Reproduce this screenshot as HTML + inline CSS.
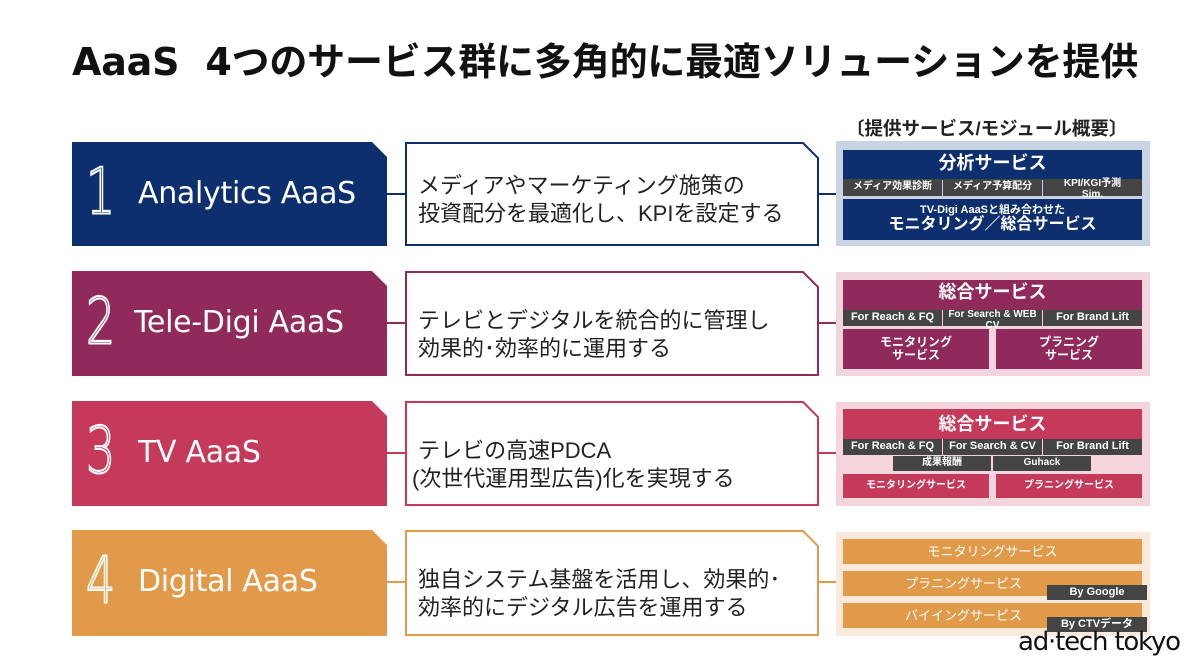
<!DOCTYPE html>
<html><head><meta charset="utf-8"><style>
*{margin:0;padding:0;box-sizing:border-box}
body{width:1200px;height:667px;background:#fff;position:relative;overflow:hidden;font-family:"Liberation Sans","Noto Sans CJK JP",sans-serif}
.a{position:absolute}
.c{display:flex;align-items:center;justify-content:center;color:#fff;font-weight:bold;white-space:nowrap;text-align:center;line-height:1.05}
.lb{clip-path:polygon(0 0,300px 0,315px 15px,315px 100%,0 100%)}
.num{font-family:"DejaVu Sans",sans-serif;font-weight:200;color:transparent;-webkit-text-stroke:1.5px #fff;font-size:46px;transform:scaleY(1.4);transform-origin:left center}
.ttl{color:#fff;font-size:30px;font-family:"DejaVu Sans","Liberation Sans",sans-serif;font-weight:500;letter-spacing:-0.3px}
.desc{font-size:22px;color:#222;line-height:28px;white-space:nowrap}
.g{background:#444;font-size:10px}
</style></head><body>
<div class="a" style="left:72px;top:31px;font-size:38px;font-weight:bold;color:#111;white-space:nowrap;font-family:'DejaVu Sans','Noto Sans CJK JP',sans-serif;letter-spacing:-0.2px">AaaS&nbsp; 4つのサービス群に多角的に最適ソリューションを提供</div>
<div class="a" style="left:846px;top:115px;font-size:18.5px;font-weight:bold;color:#222;white-space:nowrap">〔提供サービス/モジュール概要〕</div>

<svg class="a" style="left:0;top:0" width="1200" height="667">
<g fill="#fff" stroke-width="2">
<polygon points="406,143 803,143 818,158 818,245 406,245" stroke="#0d2f6e"/>
<polygon points="406,272 803,272 818,287 818,375 406,375" stroke="#8f2a5a"/>
<polygon points="406,402 803,402 818,417 818,505 406,505" stroke="#c53a5a"/>
<polygon points="406,531 803,531 818,546 818,635 406,635" stroke="#e09a4a"/>
</g>
<g stroke-width="2">
<line x1="387" y1="194" x2="406" y2="194" stroke="#0d2f6e"/><line x1="818" y1="194" x2="836" y2="194" stroke="#0d2f6e"/>
<line x1="387" y1="323" x2="406" y2="323" stroke="#8f2a5a"/><line x1="818" y1="323" x2="836" y2="323" stroke="#8f2a5a"/>
<line x1="387" y1="453" x2="406" y2="453" stroke="#c53a5a"/><line x1="818" y1="453" x2="836" y2="453" stroke="#c53a5a"/>
<line x1="387" y1="582" x2="406" y2="582" stroke="#e09a4a"/><line x1="818" y1="582" x2="836" y2="582" stroke="#e09a4a"/>
</g>
</svg>

<div class="a lb" style="left:72px;top:142px;width:315px;height:104px;background:#0d2f6e"></div>
<div class="a lb" style="left:72px;top:271px;width:315px;height:105px;background:#8f2a5a"></div>
<div class="a lb" style="left:72px;top:401px;width:315px;height:105px;background:#c53a5a"></div>
<div class="a lb" style="left:72px;top:530px;width:315px;height:106px;background:#e09a4a"></div>

<div class="a num" style="left:86px;top:164px">1</div>
<div class="a num" style="left:86px;top:294px">2</div>
<div class="a num" style="left:86px;top:423px">3</div>
<div class="a num" style="left:86px;top:553px">4</div>
<div class="a ttl" style="left:138px;top:176px">Analytics AaaS</div>
<div class="a ttl" style="left:134px;top:305px">Tele-Digi AaaS</div>
<div class="a ttl" style="left:138px;top:435px">TV AaaS</div>
<div class="a ttl" style="left:138px;top:564px">Digital AaaS</div>

<div class="a desc" style="left:418px;top:172px">メディアやマーケティング施策の<br>投資配分を最適化し、KPIを設定する</div>
<div class="a desc" style="left:418px;top:307px">テレビとデジタルを統合的に管理し<br>効果的･効率的に運用する</div>
<div class="a desc" style="left:412px;top:437px">&nbsp;テレビの高速PDCA<br>(次世代運用型広告)化を実現する</div>
<div class="a desc" style="left:418px;top:566px">独自システム基盤を活用し、効果的･<br>効率的にデジタル広告を運用する</div>

<div class="a" style="left:836px;top:141px;width:314px;height:105px;background:#c8d4e4"></div>
<div class="a c" style="left:843px;top:150px;width:299px;height:30px;background:#0d2f6e;font-size:18px;align-items:flex-start;padding-top:4px">分析サービス</div>
<div class="a c g" style="left:843px;top:179px;width:99px;height:17px">メディア効果診断</div>
<div class="a c g" style="left:943px;top:179px;width:99px;height:17px">メディア予算配分</div>
<div class="a c g" style="left:1043px;top:179px;width:99px;height:17px;align-items:flex-start">KPI/KGI予測<br>Sim.</div>
<div class="a c" style="left:843px;top:199px;width:299px;height:41px;background:#0d2f6e;flex-direction:column;font-size:16px"><span style="font-size:11px">TV-Digi AaaSと組み合わせた</span>モニタリング／総合サービス</div>

<div class="a" style="left:836px;top:272px;width:314px;height:104px;background:#f2d4de"></div>
<div class="a c" style="left:843px;top:280px;width:299px;height:30px;background:#8f2a5a;font-size:18px;align-items:flex-start;padding-top:3px">総合サービス</div>
<div class="a c g" style="left:843px;top:310px;width:99px;height:16px;font-size:11px">For Reach &amp; FQ</div>
<div class="a c g" style="left:943px;top:310px;width:99px;height:16px;font-size:10px;align-items:flex-start">For Search &amp; WEB<br>CV</div>
<div class="a c g" style="left:1043px;top:310px;width:99px;height:16px;font-size:11px">For Brand Lift</div>
<div class="a c" style="left:843px;top:329px;width:146px;height:40px;background:#8f2a5a;font-size:12px">モニタリング<br>サービス</div>
<div class="a c" style="left:996px;top:329px;width:146px;height:40px;background:#8f2a5a;font-size:12px">プラニング<br>サービス</div>

<div class="a" style="left:836px;top:402px;width:314px;height:104px;background:#f5d5dc"></div>
<div class="a c" style="left:843px;top:409px;width:299px;height:30px;background:#c53a5a;font-size:18px">総合サービス</div>
<div class="a c g" style="left:843px;top:439px;width:99px;height:16px;font-size:11px">For Reach &amp; FQ</div>
<div class="a c g" style="left:943px;top:439px;width:99px;height:16px;font-size:11px">For Search &amp; CV</div>
<div class="a c g" style="left:1043px;top:439px;width:99px;height:16px;font-size:11px">For Brand Lift</div>
<div class="a c g" style="left:893px;top:456px;width:98px;height:15px">成果報酬</div>
<div class="a c g" style="left:993px;top:456px;width:98px;height:15px">Guhack</div>
<div class="a c" style="left:843px;top:474px;width:146px;height:24px;background:#c53a5a;font-size:10px">モニタリングサービス</div>
<div class="a c" style="left:996px;top:474px;width:146px;height:24px;background:#c53a5a;font-size:10px">プラニングサービス</div>

<div class="a" style="left:836px;top:532px;width:314px;height:104px;background:#fbeadb"></div>
<div class="a c" style="left:843px;top:539px;width:299px;height:25px;background:#e09a4a;font-size:13px;font-weight:normal">モニタリングサービス</div>
<div class="a c" style="left:843px;top:571px;width:299px;height:25px;background:#e09a4a;font-size:13px;font-weight:normal;justify-content:flex-start;padding-left:62px">プラニングサービス</div>
<div class="a c" style="left:843px;top:603px;width:299px;height:25px;background:#e09a4a;font-size:13px;font-weight:normal;justify-content:flex-start;padding-left:62px">バイイングサービス</div>
<div class="a c g" style="left:1047px;top:585px;width:100px;height:15px;font-size:11px">By Google</div>
<div class="a c g" style="left:1047px;top:617px;width:100px;height:15px;font-size:11px">By CTVデータ</div>

<div class="a" style="left:1018px;top:627px;font-size:26px;color:#111;font-family:'DejaVu Sans',sans-serif;letter-spacing:-1.2px;white-space:nowrap">ad·tech tokyo</div>
</body></html>
